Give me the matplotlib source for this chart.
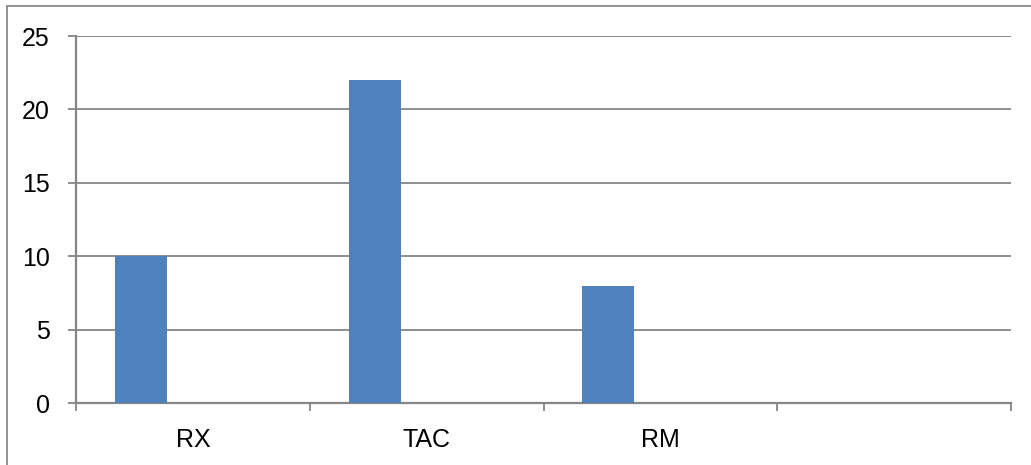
import numpy as np
from matplotlib import pyplot as plt
from matplotlib.patches import Rectangle

categories = ["RX", "TAC", "RM", ""]
values = [10, 22, 8]
y_ticks = [0, 5, 10, 15, 20, 25]

bar_color = "#4F81BD"
grey = "#868686"

plt.rcParams['font.family'] = ['Liberation Sans', 'DejaVu Sans']

fig = plt.figure(figsize=(10.31, 4.65), dpi=100)
ax = fig.add_axes([76/1031, 62/465, 935/1031, 367/465])

# excel-style cluster: first of three series slots, gap width 150%
w = 1 / 4.5
x = np.arange(len(values))
ax.bar(x - w, values, width=w, color=bar_color, zorder=3)

ax.set_xlim(-0.5, len(categories) - 0.5)
ax.set_ylim(0, 25)
ax.set_yticks(y_ticks)
ax.set_xticks(np.arange(len(categories)))
ax.set_xticklabels(categories)
ax.set_xticks(np.arange(len(categories) + 1) - 0.5, minor=True)

ax.yaxis.grid(True, color=grey, linewidth=1.3, zorder=0)
ax.tick_params(axis='y', length=6, width=1.3, color=grey, pad=13, labelsize=18)
ax.tick_params(axis='x', which='major', length=0, pad=18, labelsize=18)
ax.tick_params(axis='x', which='minor', length=6, width=1.3, color=grey)

for s in ['top', 'right']:
    ax.spines[s].set_visible(False)
for s in ['left', 'bottom']:
    ax.spines[s].set_color(grey)
    ax.spines[s].set_linewidth(1.6)

fig.patches.append(Rectangle((7/1031, -0.1), 1.1, 1.1 - 6/465,
                             transform=fig.transFigure, fill=False,
                             edgecolor="#898989", linewidth=1.3))

fig.savefig("out.png", dpi=100)
